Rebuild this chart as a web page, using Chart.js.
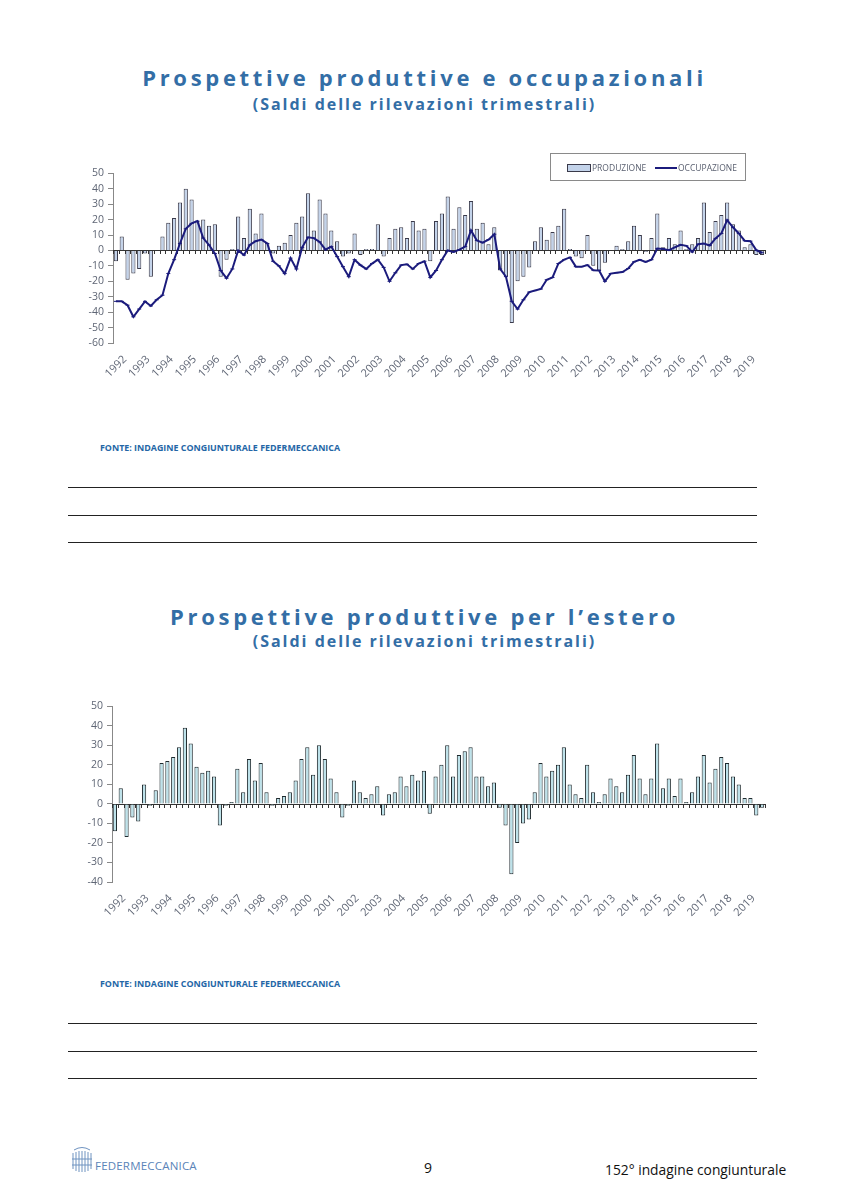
<!DOCTYPE html>
<html>
<head>
<meta charset="utf-8">
<script src="https://cdn.jsdelivr.net/npm/chart.js@4.4.1/dist/chart.umd.min.js"></script>
<style>
  body { margin: 0; background: #fff; width: 849px; height: 1200px; position: relative; font-family: 'Open Sans', sans-serif; }
  .abs { position: absolute; }
  .title { left: 0; width: 849px; text-align: center; color: #336ea6; font-weight: bold; white-space: nowrap; }
  .t1 { font-size: 22px; letter-spacing: 3.7px; line-height: 28px; }
  .t2 { font-size: 16px; letter-spacing: 2px; line-height: 20px; }
  .fonte { left: 100px; font-size: 8.9px; font-weight: bold; color: #2466a6; }
  .rule { left: 68px; width: 689px; border-top: 1px solid #222; height: 0; }
  .legend { left: 550px; top: 153px; width: 196px; height: 28px; border: 1px solid #8a8a8a; box-sizing: border-box; font-size: 8.5px; color: #5a6070; }
  .legend span { position: absolute; top: 8px; }
</style>
</head>
<body>

<div class="abs title t1" style="top:63px">Prospettive produttive e occupazionali</div>
<div class="abs title t2" style="top:94px">(Saldi delle rilevazioni trimestrali)</div>

<canvas id="chart1" class="abs" style="left:60px;top:163px" width="715" height="227"></canvas>

<div class="abs legend">
  <div class="abs" style="left:16px;top:10px;width:22px;height:6px;background:#c3d3ea;border:1px solid #3a3a4a"></div>
  <span style="left:41px">PRODUZIONE</span>
  <div class="abs" style="left:104px;top:13px;width:22px;height:2px;background:#1b1b7c"></div>
  <span style="left:127px">OCCUPAZIONE</span>
</div>

<div class="abs fonte" style="top:441px">FONTE: INDAGINE CONGIUNTURALE FEDERMECCANICA</div>
<div class="abs rule" style="top:487px"></div>
<div class="abs rule" style="top:515px"></div>
<div class="abs rule" style="top:542px"></div>

<div class="abs title t1" style="top:602px">Prospettive produttive per l’estero</div>
<div class="abs title t2" style="top:631px">(Saldi delle rilevazioni trimestrali)</div>

<canvas id="chart2" class="abs" style="left:60px;top:696px" width="715" height="233"></canvas>

<div class="abs fonte" style="top:977px">FONTE: INDAGINE CONGIUNTURALE FEDERMECCANICA</div>
<div class="abs rule" style="top:1023px"></div>
<div class="abs rule" style="top:1051px"></div>
<div class="abs rule" style="top:1078px"></div>

<svg class="abs" style="left:70px;top:1147px" width="24" height="26" viewBox="0 0 24 26">
  <g fill="none" stroke="#6f93c0" stroke-width="1">
    <path d="M4 3 Q12 -2 20 3"/><path d="M3 6 L3 22"/><path d="M6 5 L6 24"/><path d="M9 4 L9 25"/>
    <path d="M12 4 L12 25"/><path d="M15 4 L15 25"/><path d="M18 5 L18 24"/><path d="M21 6 L21 22"/>
    <path d="M2 12 L22 12"/><path d="M2 18 L22 18"/>
  </g>
</svg>
<div class="abs" style="left:95px;top:1158px;font-size:11.5px;color:#5a84b8;letter-spacing:0.2px">FEDERMECCANICA</div>
<div class="abs" style="left:424px;top:1158px;font-size:14px;color:#111">9</div>
<div class="abs" style="left:605px;top:1160px;font-size:13.8px;color:#111">152° indagine congiunturale</div>

<script>
// anni e trimestri
const years = [1992,1993,1994,1995,1996,1997,1998,1999,2000,2001,2002,2003,2004,2005,
  2006,2007,2008,2009,2010,2011,2012,2013,2014,2015,2016,2017,2018,2019];
const quarters = ['I','II','III','IV'];
const categories = [];
years.forEach(y => quarters.forEach(q => categories.push(y + ' ' + q)));

// saldi produzione (grafico 1)
const produzione = [
  -7, 9, -19, -15, -12, -2, -17, 0, 9, 18, 21, 31, 40, 33, 19, 20,
  16, 17, -17, -6, 1, 22, 8, 27, 11, 24, 5, -2, 3, 5, 10, 18,
  22, 37, 13, 33, 24, 13, 6, -4, -2, 11, -3, 1, 1, 17, -4, 8,
  14, 15, 8, 19, 13, 14, -7, 19, 24, 35, 14, 28, 23, 32, 14, 18,
  4, 15, -13, -17, -47, -20, -17, -11, 6, 15, 7, 12, 16, 27, 1, -4,
  -5, 10, -10, -13, -8, 0, 3, 1, 6, 16, 10, -1, 8, 24, 2, 8,
  4, 13, 1, 4, 8, 31, 12, 19, 23, 31, 17, 13, 2, 4, -3, -3
];

// saldi occupazione (grafico 1)
const occupazione = [
  -33, -33, -35.5, -43, -38, -33, -36, -32, -29, -15, -6, 4.5, 14, 17.5, 19, 8,
  3.5, -2, -13, -18, -12, 0, -3, 3.5, 6, 7, 4.5, -7, -10, -15, -5, -12,
  2, 8.5, 8, 5.5, 0.5, 2.5, -4, -10.5, -17, -6, -9.5, -12, -8.5, -6, -11, -20,
  -14.5, -9.5, -9, -12, -8.5, -7, -17.5, -13, -6, 0, -1, 0.5, 2.5, 13, 6.5, 5,
  7, 10.5, -12, -17, -33, -38, -32, -27, -26, -25, -19, -17.5, -8.5, -6, -4.5, -10.5,
  -10.5, -9.5, -12.8, -13, -20, -15, -14.5, -14, -11.7, -7.4, -6, -7.4, -6, 1.3, 1, 0.2,
  2, 3.7, 3, -1, 4, 4.5, 3.2, 7.8, 11, 19.7, 15, 11, 6.3, 6, 0.2, -1.5
];

// saldi produzione per l'estero (grafico 2)
const estero = [
  -14, 8, -17, -7, -9, 10, -1, 7, 21, 22, 24, 29, 39, 31, 19, 16,
  17, 14, -11, -1, 1, 18, 6, 23, 12, 21, 6, -1, 3, 4, 6, 12,
  23, 29, 15, 30, 23, 13, 6, -7, -1, 12, 6, 3, 5, 9, -6, 5,
  6, 14, 9, 15, 12, 17, -5, 14, 20, 30, 14, 25, 27, 29, 14, 14,
  9, 11, -2, -11, -36, -20, -10, -8, 6, 21, 14, 17, 20, 29, 10, 5,
  3, 20, 6, 1, 5, 13, 9, 6, 15, 25, 13, 5, 13, 31, 8, 13,
  4, 13, 1, 6, 14, 25, 11, 18, 24, 21, 14, 10, 3, 3, -6, -2
];

// asse dello zero con le tacche dei trimestri
const zeroAxis = {
  id: 'zeroAxis',
  beforeDatasetsDraw(chart) {
    const { ctx, chartArea, scales } = chart;
    const y0 = scales.y.getPixelForValue(0);
    const step = scales.x.getPixelForValue(1) - scales.x.getPixelForValue(0);
    ctx.save();
    ctx.strokeStyle = '#333';
    ctx.lineWidth = 1;
    ctx.beginPath();
    ctx.moveTo(chartArea.left, Math.round(y0) + 0.5);
    ctx.lineTo(chartArea.right, Math.round(y0) + 0.5);
    for (let i = 0; i <= categories.length; i++) {
      const x = Math.round(scales.x.getPixelForValue(i) - step / 2) + 0.5;
      ctx.moveTo(x, Math.round(y0));
      ctx.lineTo(x, Math.round(y0) + 4);
    }
    ctx.stroke();
    ctx.restore();
  }
};

function makeScales(min, max, yWidth) {
  return {
    x: {
      grid: { display: false },
      border: { display: false },
      ticks: {
        autoSkip: false, maxRotation: 45, minRotation: 45,
        labelOffset: 9, padding: 2,
        color: '#5f6675', font: { family: 'Open Sans', size: 11 },
        callback: (v, i) => (i % 4 === 0 ? String(years[i / 4]) : '')
      },
      afterFit(scale) { scale.height = 47; }
    },
    y: {
      min: min, max: max,
      ticks: { stepSize: 10, autoSkip: false, padding: 4, color: '#5f6675', font: { family: 'Open Sans', size: 10.5 } },
      grid: { drawOnChartArea: false, drawTicks: true, tickLength: 5, color: '#888' },
      border: { display: true, color: '#888' },
      afterFit(scale) { scale.width = yWidth; }
    }
  };
}

new Chart(document.getElementById('chart1'), {
  data: {
    labels: categories,
    datasets: [
      {
        type: 'line', label: 'OCCUPAZIONE', data: occupazione, order: 0,
        borderColor: '#1b1b7c', borderWidth: 2, tension: 0,
        pointStyle: 'line', pointRadius: 2, pointBorderWidth: 1, pointBorderColor: '#1b1b7c'
      },
      {
        type: 'bar', label: 'PRODUZIONE', data: produzione, order: 1,
        backgroundColor: '#c3d3ea', borderColor: '#3a3a4a', borderWidth: 1,
        barPercentage: 0.72, categoryPercentage: 1
      }
    ]
  },
  options: {
    responsive: false, animation: false, devicePixelRatio: 1,
    layout: { padding: { top: 0, right: 10, left: 0, bottom: 0 } },
    plugins: { legend: { display: false }, tooltip: { enabled: false } },
    scales: makeScales(-60, 50, 53)
  },
  plugins: [zeroAxis]
});

new Chart(document.getElementById('chart2'), {
  type: 'bar',
  data: {
    labels: categories,
    datasets: [{
      label: 'ESTERO', data: estero,
      backgroundColor: '#bde2ea', borderColor: '#1f2a2e', borderWidth: 1,
      barPercentage: 0.72, categoryPercentage: 1
    }]
  },
  options: {
    responsive: false, animation: false, devicePixelRatio: 1,
    layout: { padding: { top: 0, right: 10, left: 0, bottom: 0 } },
    plugins: { legend: { display: false }, tooltip: { enabled: false } },
    scales: makeScales(-40, 50, 52)
  },
  plugins: [zeroAxis]
});
</script>
</body>
</html>
